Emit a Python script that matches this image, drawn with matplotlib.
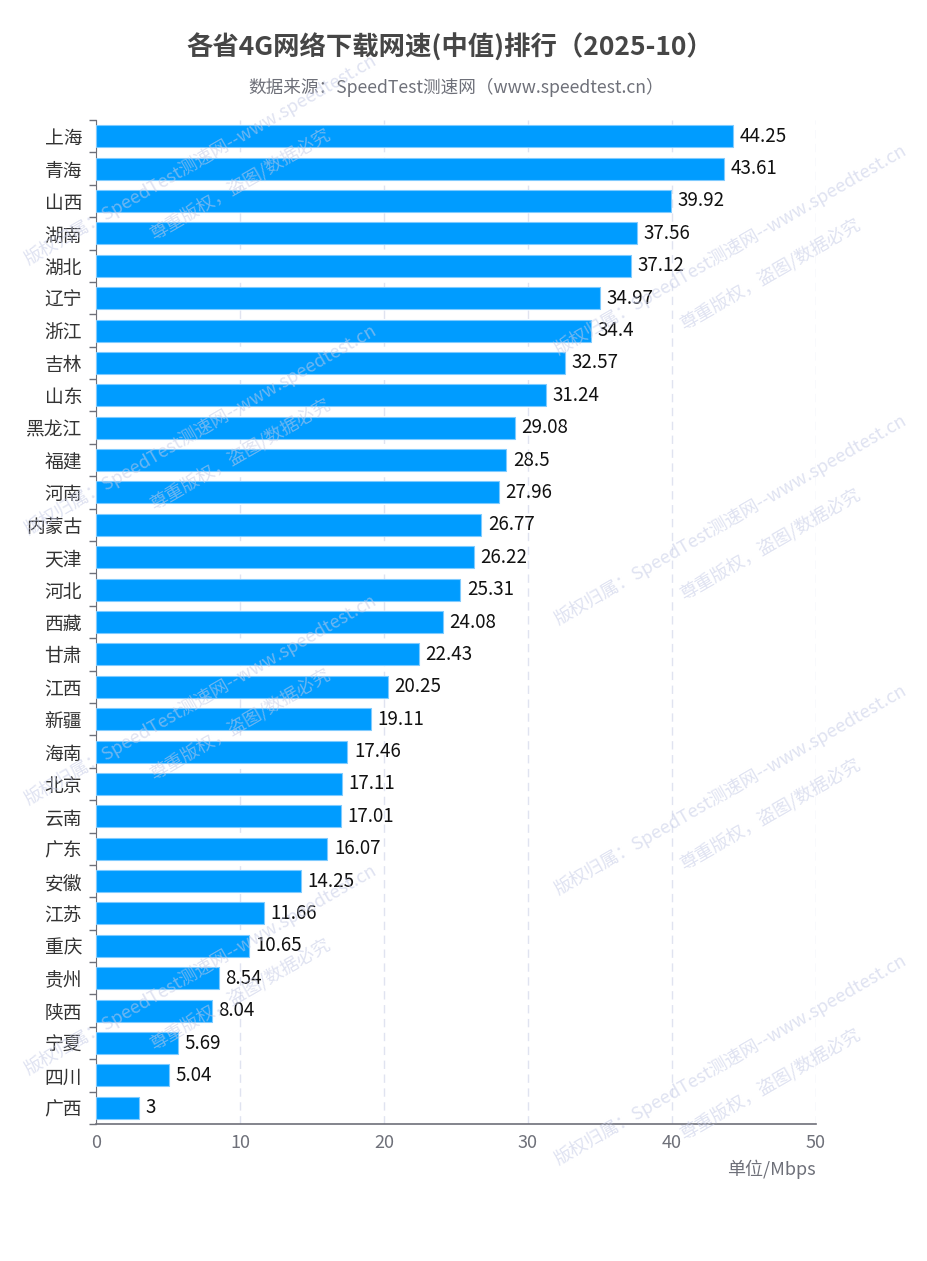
import matplotlib.pyplot as plt

plt.rcParams['font.family'] = ['Noto Sans CJK SC', 'DejaVu Sans']

provinces = ['上海', '青海', '山西', '湖南', '湖北', '辽宁', '浙江', '吉林', '山东', '黑龙江',
             '福建', '河南', '内蒙古', '天津', '河北', '西藏', '甘肃', '江西', '新疆', '海南',
             '北京', '云南', '广东', '安徽', '江苏', '重庆', '贵州', '陕西', '宁夏', '四川', '广西']
speeds = [44.25, 43.61, 39.92, 37.56, 37.12, 34.97, 34.4, 32.57, 31.24, 29.08,
          28.5, 27.96, 26.77, 26.22, 25.31, 24.08, 22.43, 20.25, 19.11, 17.46,
          17.11, 17.01, 16.07, 14.25, 11.66, 10.65, 8.54, 8.04, 5.69, 5.04, 3]
xticks = [0, 10, 20, 30, 40, 50]

fig = plt.figure(figsize=(9.28, 12.61), dpi=100)
ax = fig.add_axes([96 / 928, 1 - 1124 / 1261, 720 / 928, 1004 / 1261])

pos = list(range(len(provinces)))
ax.barh(pos, speeds, height=0.68, color='#009cff', edgecolor='#7fcbff', linewidth=0.8, zorder=3)
for p, v in zip(pos, speeds):
    ax.text(v + 0.45, p, f'{v:g}', va='center', ha='left', fontsize=13.5, color='#111111', zorder=4)

ax.set_ylim(len(provinces) - 0.5, -0.5)
ax.set_xlim(0, 50)
ax.set_xticks(xticks)
ax.set_xticklabels([str(t) for t in xticks], fontsize=13, color='#6e7079')
ax.set_yticks(pos)
ax.set_yticklabels(provinces, fontsize=13.5, color='#333333')
ax.set_yticks([p - 0.5 for p in pos] + [len(provinces) - 0.5], minor=True)
ax.tick_params(axis='y', which='major', length=0, pad=10)
ax.tick_params(axis='y', which='minor', length=5, color='#6e7079', width=1)
ax.tick_params(axis='x', length=0, pad=7)

ax.grid(axis='x', linestyle=(0, (6, 4)), color='#e0e3f0', linewidth=1, zorder=0)
for s in ['top', 'right']:
    ax.spines[s].set_visible(False)
ax.spines['left'].set_color('#6e7079')
ax.spines['bottom'].set_color('#6e7079')
ax.spines['bottom'].set_linewidth(1.2)

fig.text(450 / 928, 1 - 48 / 1261, '各省4G网络下载网速(中值)排行（2025-10）', ha='center', va='center',
         fontsize=19, fontweight='bold', color='#464646')
fig.text(456 / 928, 1 - 87 / 1261, '数据来源：SpeedTest测速网（www.speedtest.cn）', ha='center', va='center',
         fontsize=12.7, color='#6e7079')
fig.text(816 / 928, 1 - 1169 / 1261, '单位/Mbps', ha='right', va='center', fontsize=13, color='#6e7079')

# watermark
wm1 = '版权归属：SpeedTest测速网--www.speedtest.cn'
wm2 = '尊重版权，盗图/数据必究'
spots = [(200, 160), (730, 250), (200, 430), (730, 520), (200, 700), (730, 790),
         (200, 970), (730, 1060)]
for x, y in spots:
    fig.text(x / 928, 1 - y / 1261, wm1, rotation=30, ha='center', va='center', fontsize=13,
             style='italic', color='#c5cbe6', alpha=0.55, zorder=10)
    fig.text((x + 40) / 928, 1 - (y + 25) / 1261, wm2, rotation=30, ha='center', va='center',
             fontsize=13, style='italic', color='#c5cbe6', alpha=0.55, zorder=10)

fig.savefig('out.png', dpi=100)
